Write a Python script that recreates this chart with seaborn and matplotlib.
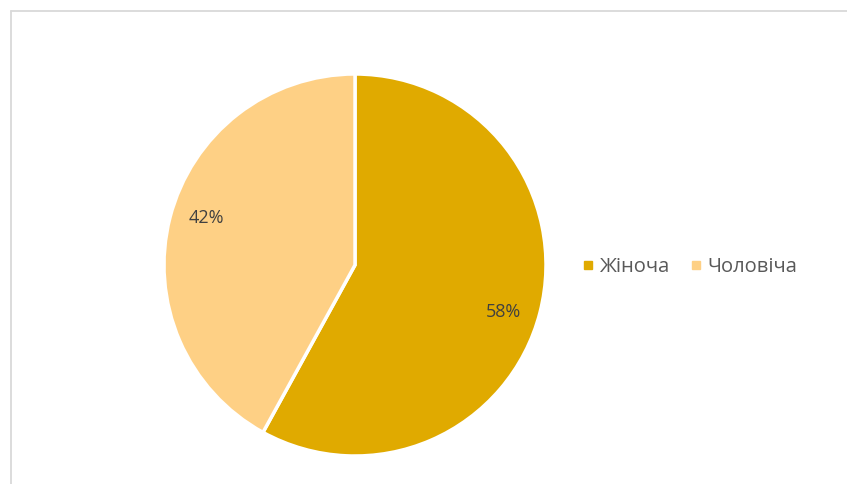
import matplotlib
matplotlib.use("Agg")
import numpy as np
import matplotlib.pyplot as plt
from matplotlib.lines import Line2D
import seaborn as sns

categories = ["Жіноча", "Чоловіча"]
values = [58, 42]
colors = ["#E0AA00", "#FED085"]

sns.set_theme(style="white")
plt.rcParams["font.family"] = ["Open Sans", "DejaVu Sans"]

W, H = 847, 484
fig = plt.figure(figsize=(W / 100, H / 100), dpi=100)
fig.patch.set_facecolor("white")

cx, cy, r = 355, 265, 191
ax = fig.add_axes([(cx - r) / W, (H - cy - r) / H, 2 * r / W, 2 * r / H])
wedges, texts, autotexts = ax.pie(
    values, colors=colors, startangle=90, counterclock=False,
    autopct=lambda p: f"{p:.0f}%", pctdistance=0.81,
    wedgeprops=dict(edgecolor="white", linewidth=2.5),
    textprops=dict(color="#404040", fontsize=13),
)
for w, t in zip(wedges, autotexts):
    w.set_clip_on(False)
    th = np.deg2rad((w.theta1 + w.theta2) / 2 - 3.3)
    t.set_position((0.815 * np.cos(th), 0.815 * np.sin(th)))
ax.set_xlim(-1, 1)
ax.set_ylim(-1, 1)
ax.set_aspect("equal")
ax.axis("off")

handles = [Line2D([0], [0], marker="s", linestyle="none", markersize=6,
                  markerfacecolor=c, markeredgecolor=c) for c in colors]
fig.legend(handles, categories, loc="center left",
           bbox_to_anchor=(584 / W, 1 - 267 / H), ncol=2, frameon=False,
           fontsize=14.5, labelcolor="#595959", handlelength=0.4,
           handletextpad=0.4, columnspacing=1.05, borderaxespad=0, borderpad=0)

bc = "#D9D9D9"
x0 = 10.5 / W
y0 = 1 - 10.5 / H
fig.add_artist(Line2D([x0, x0], [0, y0], transform=fig.transFigure, color=bc, linewidth=1.3))
fig.add_artist(Line2D([x0, 1], [y0, y0], transform=fig.transFigure, color=bc, linewidth=1.3))

fig.savefig("out.png", dpi=100)
